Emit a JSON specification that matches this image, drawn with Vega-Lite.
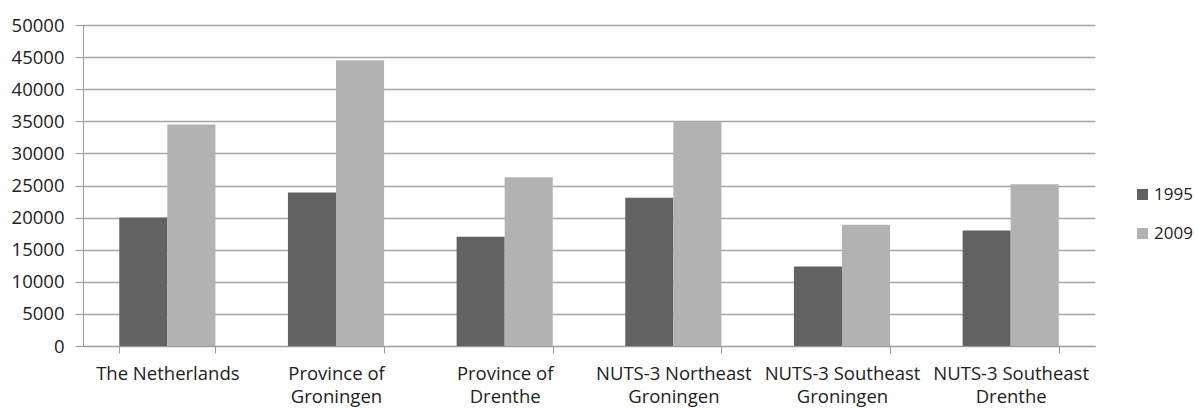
{
  "$schema": "https://vega.github.io/schema/vega-lite/v6.json",
  "autosize": {"type": "none"},
  "width": 1012,
  "height": 321,
  "padding": {"left": 83, "top": 25, "right": 101, "bottom": 62},
  "background": "white",
  "data": {
    "values": [
      {"region": "The Netherlands", "year": "1995", "value": 20000},
      {"region": "The Netherlands", "year": "2009", "value": 34500},
      {"region": "Province of Groningen", "year": "1995", "value": 23900},
      {"region": "Province of Groningen", "year": "2009", "value": 44500},
      {"region": "Province of Drenthe", "year": "1995", "value": 17000},
      {"region": "Province of Drenthe", "year": "2009", "value": 26300},
      {"region": "NUTS-3 Northeast Groningen", "year": "1995", "value": 23100},
      {"region": "NUTS-3 Northeast Groningen", "year": "2009", "value": 34900},
      {"region": "NUTS-3 Southeast Groningen", "year": "1995", "value": 12400},
      {"region": "NUTS-3 Southeast Groningen", "year": "2009", "value": 18900},
      {"region": "NUTS-3 Southeast Drenthe", "year": "1995", "value": 18000},
      {"region": "NUTS-3 Southeast Drenthe", "year": "2009", "value": 25200}
    ]
  },
  "mark": {"type": "bar"},
  "encoding": {
    "x": {
      "field": "region",
      "type": "nominal",
      "sort": null,
      "title": null,
      "scale": {"paddingInner": 0.43, "paddingOuter": 0.215},
      "axis": {
        "labelAngle": 0,
        "labelFont": "Open Sans",
        "labelFontSize": 18.5,
        "labelColor": "#222222",
        "labelPadding": 11,
        "labelLineHeight": 23,
        "labelBaseline": "top",
        "tickBand": "extent",
        "tickSize": 7,
        "tickColor": "#9a9a9a",
        "domainColor": "#9a9a9a",
        "grid": false,
        "labelExpr": "datum.label == 'The Netherlands' ? datum.label : [substring(datum.label, 0, lastindexof(datum.label, ' ')), substring(datum.label, lastindexof(datum.label, ' ') + 1)]"
      }
    },
    "xOffset": {"field": "year", "type": "nominal", "scale": {"paddingInner": 0, "paddingOuter": 0}},
    "y": {
      "field": "value",
      "type": "quantitative",
      "title": null,
      "scale": {"domain": [0, 50000], "nice": false},
      "axis": {
        "values": [0, 5000, 10000, 15000, 20000, 25000, 30000, 35000, 40000, 45000, 50000],
        "format": "d",
        "labelFont": "Open Sans",
        "labelFontSize": 18.5,
        "labelColor": "#222222",
        "labelPadding": 11,
        "tickSize": 8,
        "tickColor": "#9a9a9a",
        "domainColor": "#9a9a9a",
        "gridColor": "#a6a6a6",
        "gridWidth": 1.3
      }
    },
    "color": {
      "field": "year",
      "type": "nominal",
      "title": null,
      "scale": {"domain": ["1995", "2009"], "range": ["#626262", "#b2b2b2"]},
      "legend": {
        "orient": "none",
        "legendX": 1051,
        "legendY": 161,
        "symbolType": "square",
        "symbolSize": 121,
        "symbolStrokeWidth": 0,
        "labelFont": "Open Sans",
        "labelFontSize": 17,
        "labelColor": "#222222",
        "labelOffset": 3,
        "rowPadding": 21
      }
    }
  },
  "config": {"view": {"stroke": null}}
}
